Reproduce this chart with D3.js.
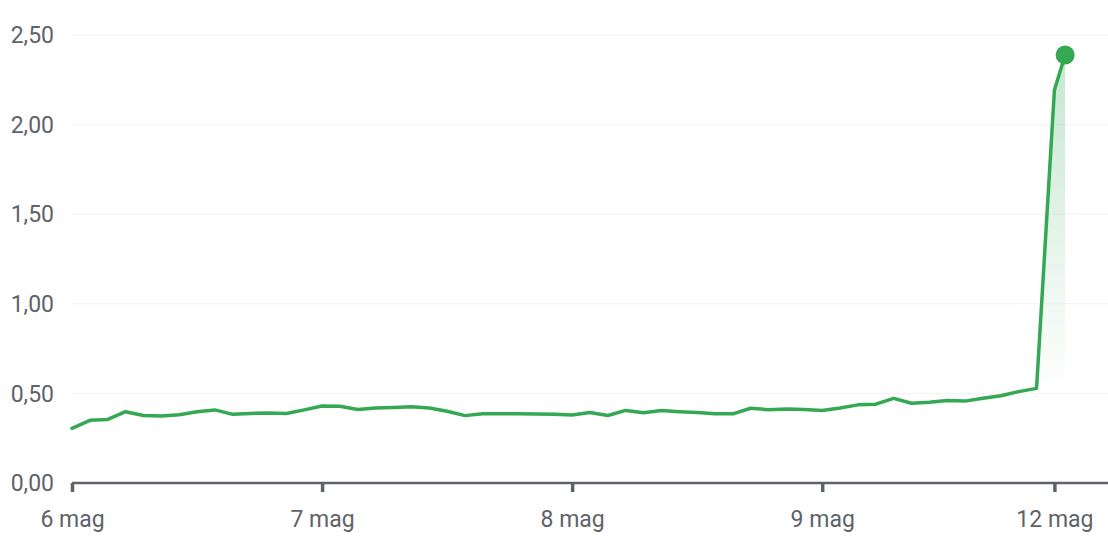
<!DOCTYPE html>
<html>
<head>
<meta charset="utf-8">
<script src="https://cdn.jsdelivr.net/npm/d3@7/dist/d3.min.js"></script>
<style>
  html, body { margin: 0; padding: 0; background: #fff; }
  svg { display: block; }
  text { font-family: Roboto, "Noto Sans", sans-serif; }
</style>
</head>
<body>
<svg id="chart" width="1108" height="546"></svg>
<script>
// ---- data ----
const day6 = [0.305, 0.35, 0.355, 0.398, 0.377, 0.374, 0.381, 0.398, 0.408, 0.383, 0.388, 0.391, 0.388, 0.408];
const day7 = [0.43, 0.428, 0.41, 0.418, 0.422, 0.426, 0.419, 0.40, 0.376, 0.387, 0.386, 0.386, 0.385, 0.383];
const day8 = [0.38, 0.393, 0.377, 0.405, 0.392, 0.405, 0.398, 0.393, 0.387, 0.386, 0.417, 0.409, 0.413, 0.41];
const day9 = [0.405, 0.418, 0.436, 0.44, 0.472, 0.445, 0.45, 0.46, 0.457, 0.473, 0.487, 0.51, 0.528];
const day12 = [2.193, 2.388];
const day12Slots = [55, 55.6];          // trading-session slot of each 12 mag point
const xTickSlots = [0, 14, 28, 42, 55];
const xTickLabels = ["6 mag", "7 mag", "8 mag", "9 mag", "12 mag"];
const yTicks = [0, 0.5, 1, 1.5, 2, 2.5];
const slotMax = 58;

const earlier = [...day6, ...day7, ...day8, ...day9];
const data = earlier.map((v, i) => ({ s: i, v }))
  .concat(day12.map((v, i) => ({ s: day12Slots[i], v })));

// ---- layout ----
const W = 1108, H = 546;
const svg = d3.select("#chart");
const x = d3.scaleLinear().domain([0, slotMax]).range([72, 1108]);
const y = d3.scaleLinear().domain([0, 2.5]).range([483, 35]);
const loc = d3.formatLocale({ decimal: ",", thousands: ".", grouping: [3], currency: ["€", ""] });
const fmt = loc.format(".2f");

const green = "#34a853";
const grey = "#5f6368";
const fs = 23;

// gridlines
svg.append("g").selectAll("line").data(yTicks.filter(d => d > 0)).join("line")
  .attr("x1", x(0)).attr("x2", W)
  .attr("y1", d => y(d)).attr("y2", d => y(d))
  .attr("stroke", "#f1f3f4").attr("stroke-width", 1);

// y labels
svg.append("g").selectAll("text").data(yTicks).join("text")
  .attr("x", 54).attr("y", d => y(d))
  .attr("dy", "0.36em")
  .attr("text-anchor", "end")
  .attr("font-size", fs)
  .attr("fill", grey)
  .text(d => fmt(d));

// gradient area (last segment)
const defs = svg.append("defs");
const grad = defs.append("linearGradient").attr("id", "fillGrad")
  .attr("gradientUnits", "userSpaceOnUse")
  .attr("x1", 0).attr("x2", 0).attr("y1", y(2.4)).attr("y2", y(0.5));
grad.append("stop").attr("offset", 0).attr("stop-color", green).attr("stop-opacity", 0.28);
grad.append("stop").attr("offset", 1).attr("stop-color", green).attr("stop-opacity", 0);

const tail = data.slice(earlier.length - 1);
svg.append("path").datum(tail)
  .attr("fill", "url(#fillGrad)")
  .attr("d", d3.area().x(d => x(d.s)).y0(y(0.5)).y1(d => y(d.v)));

// x axis
const xAxis = d3.axisBottom(x).tickValues(xTickSlots)
  .tickFormat((d, i) => xTickLabels[i]).tickSize(9).tickPadding(19);
const gx = svg.append("g").attr("transform", `translate(0,${y(0)})`).call(xAxis);
gx.select(".domain").attr("stroke", grey).attr("stroke-width", 2.5).attr("d", `M${x(0)},0H${W}`);
gx.selectAll(".tick line").attr("stroke", grey).attr("stroke-width", 3.5);
gx.selectAll(".tick text").attr("font-size", fs).attr("fill", grey).attr("font-family", "Roboto, sans-serif");

// line
svg.append("path").datum(data)
  .attr("fill", "none").attr("stroke", green).attr("stroke-width", 3.5)
  .attr("stroke-linejoin", "round").attr("stroke-linecap", "round")
  .attr("d", d3.line().x(d => x(d.s)).y(d => y(d.v)));

// end dot
const last = data[data.length - 1];
svg.append("circle").attr("cx", x(last.s)).attr("cy", y(last.v)).attr("r", 9.5).attr("fill", green);
</script>
</body>
</html>
